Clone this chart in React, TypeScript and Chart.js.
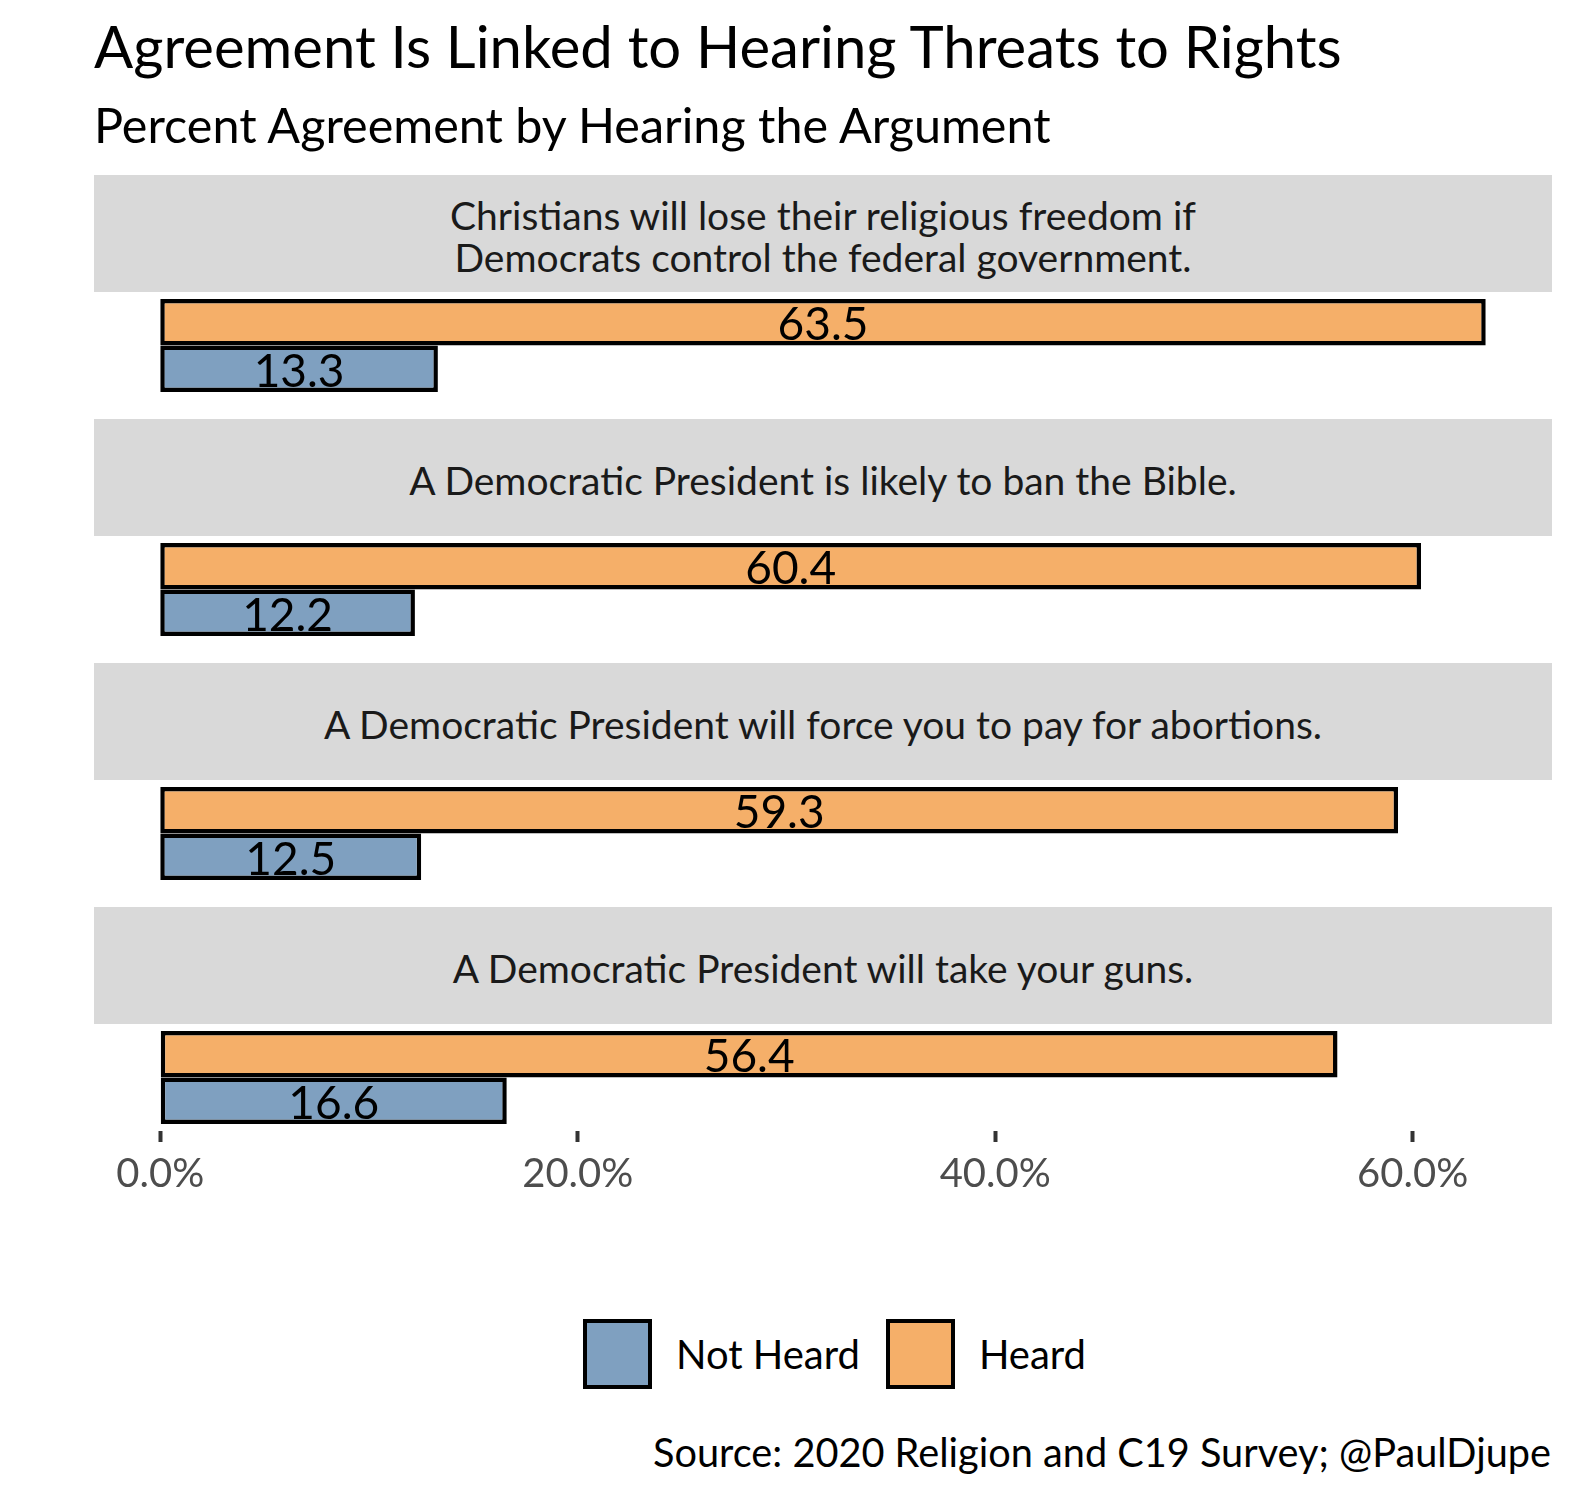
import React, { useEffect, useRef } from "react";
import { Chart, registerables } from "chart.js";
Chart.register(...registerables);

// ---------- data ----------
const questions: string[][] = [
  ["Christians will lose their religious freedom if", "Democrats control the federal government."],
  ["A Democratic President is likely to ban the Bible."],
  ["A Democratic President will force you to pay for abortions."],
  ["A Democratic President will take your guns."],
];
const heardValues = [63.5, 60.4, 59.3, 56.4];
const notHeardValues = [13.3, 12.2, 12.5, 16.6];
const seriesNames = ["Not Heard", "Heard"];
const xTickValues = [0, 20, 40, 60];
const titleText = "Agreement Is Linked to Hearing Threats to Rights";
const subtitleText = "Percent Agreement by Hearing the Argument";
const sourceText = "Source: 2020 Religion and C19 Survey; @PaulDjupe";

// ---------- style ----------
const FONT = "Lato, 'Noto Sans', sans-serif";
const BLUE = "#7fa0c0";
const ORANGE = "#f5af69";
const seriesColors = [BLUE, ORANGE];
const PANEL_LEFT = 94;
const PANEL_WIDTH = 1458;
const STRIP_TOP = 175;
const STRIP_H = 117;
const PANEL_H = 107;
const FACET_STEP = 244;
const AXIS_H = 70;
const X_MIN = -3.175;
const X_MAX = 66.675;
const BAR_BORDER = 4.5;

const labelPlugin = {
  id: "barLabels",
  afterDatasetsDraw(chart: any) {
    const ctx = chart.ctx;
    ctx.save();
    ctx.font = `46px ${FONT}`;
    ctx.fillStyle = "#000";
    ctx.textAlign = "center";
    ctx.textBaseline = "middle";
    chart.data.datasets.forEach((ds: any, di: number) => {
      chart.getDatasetMeta(di).data.forEach((el: any, j: number) => {
        const v = ds.data[j] as number;
        ctx.fillText(v.toFixed(1), (el.x + el.base) / 2, el.y + 3);
      });
    });
    ctx.restore();
  },
};

function Panel({ index, showAxis }: { index: number; showAxis: boolean }) {
  const ref = useRef<HTMLCanvasElement>(null);
  const height = PANEL_H + (showAxis ? AXIS_H : 0);
  useEffect(() => {
    if (!ref.current) return;
    const chart = new Chart(ref.current, {
      type: "bar",
      data: {
        labels: [""],
        datasets: [
          {
            label: seriesNames[1],
            data: [heardValues[index]],
            backgroundColor: seriesColors[1],
            borderColor: "#000",
            borderWidth: BAR_BORDER,
            borderSkipped: false,
            categoryPercentage: 0.87,
            barPercentage: 1,
          },
          {
            label: seriesNames[0],
            data: [notHeardValues[index]],
            backgroundColor: seriesColors[0],
            borderColor: "#000",
            borderWidth: BAR_BORDER,
            borderSkipped: false,
            categoryPercentage: 0.87,
            barPercentage: 1,
          },
        ],
      },
      options: {
        indexAxis: "y",
        animation: false,
        responsive: false,
        maintainAspectRatio: false,
        devicePixelRatio: 1,
        layout: { padding: 0 },
        plugins: {
          legend: { display: false },
          tooltip: { enabled: false },
        },
        scales: {
          x: {
            min: X_MIN,
            max: X_MAX,
            display: showAxis,
            afterBuildTicks: (s: any) => {
              s.ticks = xTickValues.map((v) => ({ value: v }));
            },
            afterFit: (s: any) => {
              s.height = showAxis ? AXIS_H : 0;
            },
            ticks: {
              callback: (v: any) => Number(v).toFixed(1) + "%",
              font: { family: FONT, size: 40 },
              color: "#4d4d4d",
              padding: 8,
              maxRotation: 0,
              autoSkip: false,
            },
            grid: {
              display: true,
              drawOnChartArea: false,
              drawTicks: true,
              tickLength: 11,
              tickWidth: 4,
              tickColor: "#333333",
            },
            border: { display: false },
          },
          y: { display: false },
        },
      },
      plugins: [labelPlugin],
    } as any);
    return () => chart.destroy();
  }, [index, showAxis]);
  return (
    <canvas
      ref={ref}
      width={PANEL_WIDTH}
      height={height}
      style={{
        position: "absolute",
        left: PANEL_LEFT,
        top: STRIP_TOP + STRIP_H + index * FACET_STEP,
        width: PANEL_WIDTH,
        height,
      }}
    />
  );
}

export default function App() {
  return (
    <div
      style={{
        position: "absolute",
        left: 0,
        top: 0,
        width: 1575,
        height: 1500,
        background: "#fff",
        fontFamily: FONT,
        overflow: "hidden",
      }}
    >
      <div
        style={{
          position: "absolute",
          left: 94,
          top: 17,
          fontSize: 58,
          lineHeight: "58px",
          color: "#000",
          whiteSpace: "nowrap",
        }}
      >
        {titleText}
      </div>
      <div
        style={{
          position: "absolute",
          left: 94,
          top: 100,
          fontSize: 48.5,
          lineHeight: "48.5px",
          color: "#000",
          whiteSpace: "nowrap",
        }}
      >
        {subtitleText}
      </div>
      {questions.map((lines, i) => (
        <div
          key={i}
          style={{
            position: "absolute",
            left: PANEL_LEFT,
            top: STRIP_TOP + i * FACET_STEP,
            width: PANEL_WIDTH,
            height: STRIP_H,
            background: "#d9d9d9",
            display: "flex",
            flexDirection: "column",
            alignItems: "center",
            justifyContent: "center",
            color: "#1a1a1a",
            fontSize: 39,
            lineHeight: "42px",
            textAlign: "center",
            paddingTop: 4,
            boxSizing: "border-box",
          }}
        >
          {lines.map((l, k) => (
            <div key={k}>{l}</div>
          ))}
        </div>
      ))}
      {questions.map((_, i) => (
        <Panel key={i} index={i} showAxis={i === questions.length - 1} />
      ))}
      <div
        style={{
          position: "absolute",
          left: 583,
          top: 1319,
          height: 70,
          display: "flex",
          alignItems: "center",
        }}
      >
        {seriesNames.map((name, i) => (
          <React.Fragment key={name}>
            <div
              style={{
                width: 69,
                height: 70,
                boxSizing: "border-box",
                border: "4px solid #000",
                background: seriesColors[i],
                marginLeft: i === 0 ? 0 : 26,
              }}
            />
            <div
              style={{
                marginLeft: 24,
                fontSize: 40,
                color: "#000",
                whiteSpace: "nowrap",
              }}
            >
              {name}
            </div>
          </React.Fragment>
        ))}
      </div>
      <div
        style={{
          position: "absolute",
          left: 0,
          width: 1551,
          top: 1432,
          fontSize: 39.7,
          lineHeight: "39.7px",
          textAlign: "right",
          color: "#000",
          whiteSpace: "nowrap",
        }}
      >
        {sourceText}
      </div>
    </div>
  );
}
